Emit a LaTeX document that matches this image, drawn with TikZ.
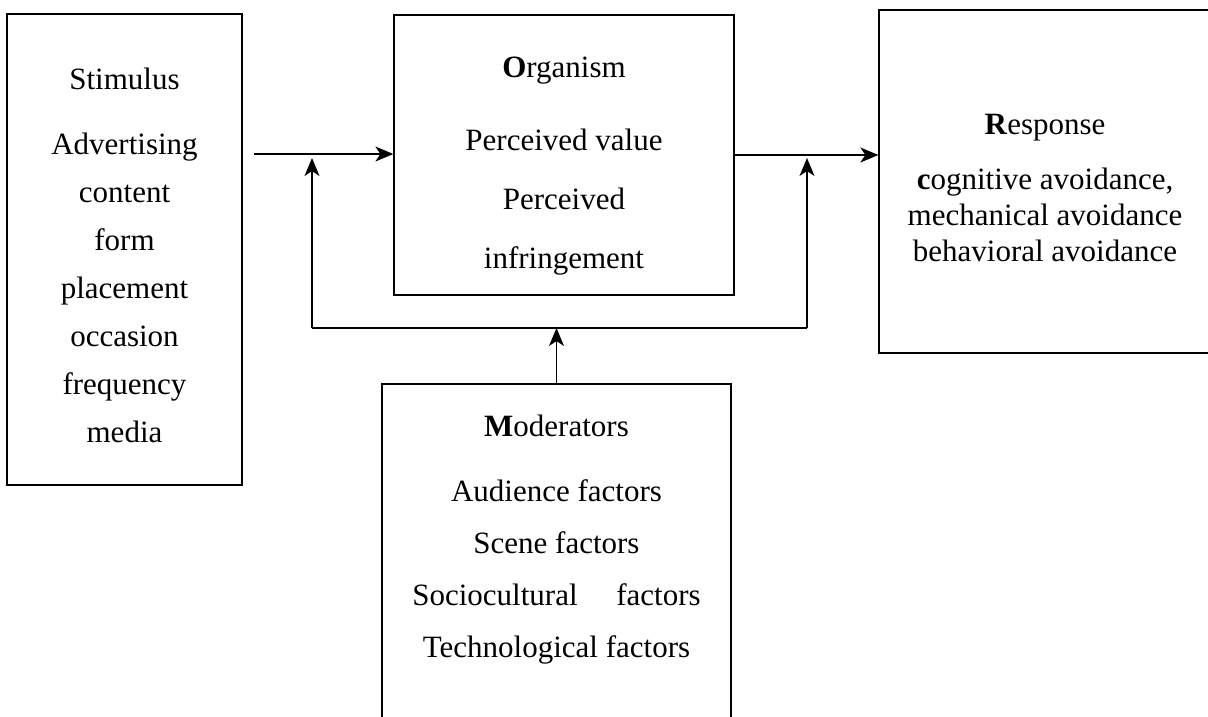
\documentclass[tikz,border=0pt]{standalone}
\usepackage{fontspec}
\setmainfont{Liberation Serif}
\usetikzlibrary{arrows.meta,positioning}

\begin{document}
\begin{tikzpicture}[x=1pt,y=-1pt,
  box/.style={draw,line width=1.3pt,inner sep=0pt},
  txt/.style={align=center,inner sep=0pt,font=\fontsize{31pt}{#1}\selectfont},
  link/.style={line width=1.2pt},
  arr/.style={link,-{Stealth[length=18pt,width=15pt,inset=5pt]}}]

\clip (0,0) rectangle (1208,716);

% the four blocks
\node[box,minimum width=235pt,minimum height=471pt] (stim) at (124.5,249.5) {};
\node[box,minimum width=340pt,minimum height=280pt] (org)  at (564,155)     {};
\node[box,minimum width=332pt,minimum height=343pt] (resp) at (1045,181.5)  {};
\node[box,minimum width=349pt,minimum height=380pt] (mod)  at (556.5,574)   {};

\node[txt=48pt,below=54pt of stim.north] (stimtxt)
  {Stimulus\\[17pt] Advertising\\ content\\ form\\ placement\\ occasion\\ frequency\\ media};
\node[txt=59pt,below=42pt of org.north] (orgtxt)
  {\textbf{O}rganism\\[14pt] Perceived value\\ Perceived\\ infringement};
\node[txt=36pt,below=105pt of resp.north] (resptxt)
  {\textbf{R}esponse\\[19pt] \textbf{c}ognitive avoidance,\\ mechanical avoidance\\ behavioral avoidance};
\node[txt=52pt,below=31pt of mod.north] (modtxt)
  {\textbf{M}oderators\\[13pt] Audience factors\\ Scene factors\\ Sociocultural\hspace{1em} factors\\ Technological factors};

% connectors
\coordinate (in)  at (254,154);
\coordinate (fbl) at (312,328);
\coordinate (fbr) at (807,328);

\draw[arr] (in) -- (in -| org.west);
\draw[arr] (org.east) -- (org.east -| resp.west);

\draw[link] (fbl) -- (fbr);
\draw[arr] (mod.north) -- (mod.north |- fbl);
\draw[arr,shorten >=4pt] (fbl) -- (fbl |- in);
\draw[arr,shorten >=4pt] (fbr) -- (fbr |- in);
\end{tikzpicture}
\end{document}
